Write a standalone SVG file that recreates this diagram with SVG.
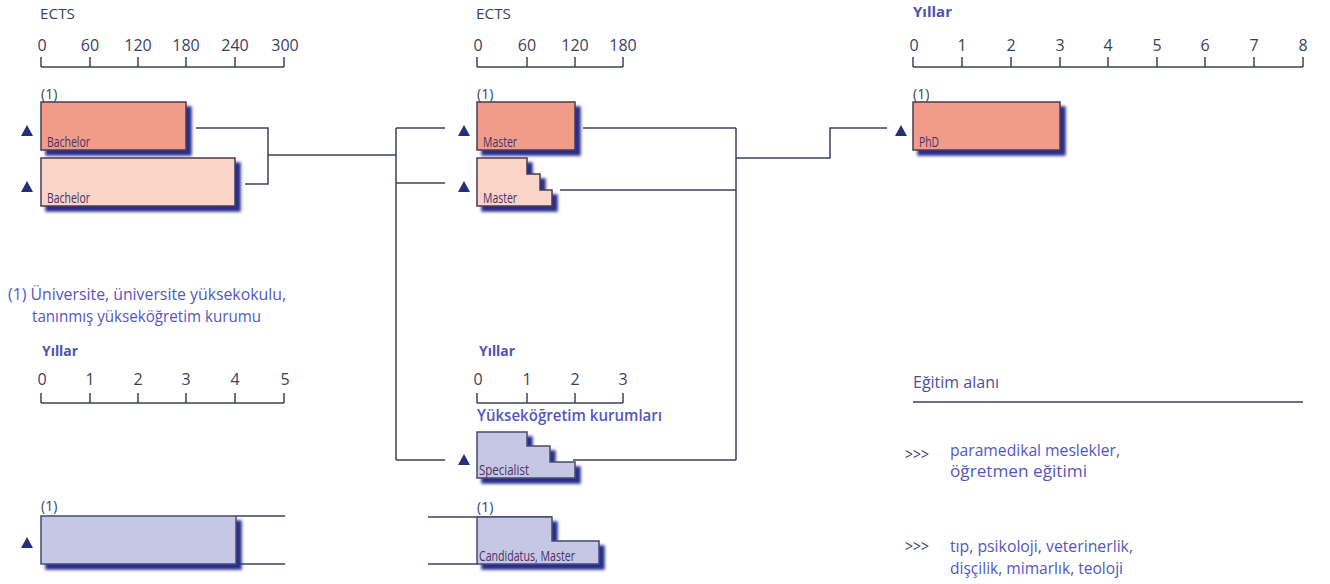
<svg xmlns="http://www.w3.org/2000/svg" width="1330" height="584" viewBox="0 0 1330 584">
<defs>
<style>
.ax{stroke:#3d4060;stroke-width:1.5;fill:none}
.cn{stroke:#3d4060;stroke-width:1.5;fill:none}
.lbl{font-family:"Open Sans","Liberation Sans",sans-serif;font-size:16px;fill:#3a3f62}
.hd{font-family:"Open Sans","Liberation Sans",sans-serif;font-size:15px;fill:#3a3f62}
.yl{font-family:"Open Sans","Liberation Sans",sans-serif;font-size:15px;font-weight:bold;fill:#4d52b4}
.blue{font-family:"Open Sans","Liberation Sans",sans-serif;font-size:16px;fill:#5457c0}
.box{font-family:"Open Sans","Liberation Sans",sans-serif;font-size:15px;fill:#4a3064}
.one{font-family:"Open Sans","Liberation Sans",sans-serif;font-size:14px;fill:#3a3f62}
.dk{fill:#f09c88;stroke:#4a3a55;stroke-width:1.5}
.lt{fill:#fad4c7;stroke:#4a3a55;stroke-width:1.5}
.lv{fill:#c6c7e4;stroke:#4a4a70;stroke-width:1.5}
.tri{fill:#26307a}
</style>
<filter id="sh" x="-10%" y="-20%" width="130%" height="160%">
<feGaussianBlur in="SourceAlpha" stdDeviation="1.8" result="b"/>
<feOffset dx="5" dy="5" result="o"/>
<feFlood flood-color="#272d8c"/>
<feComposite in2="o" operator="in" result="s"/>
<feMerge><feMergeNode in="s"/><feMergeNode in="SourceGraphic"/></feMerge>
</filter>
<path id="t" d="M0,0 L6,-11 L12,0 Z"/>
</defs>

<!-- scales -->
<g id="scale-ects-left">
<text class="hd" x="40" y="19" textLength="35" lengthAdjust="spacingAndGlyphs">ECTS</text>
<path class="ax" d="M41,67 H284 M41,57 V67 M90,57 V67 M138,57 V67 M186,57 V67 M235,57 V67 M284,57 V67"/>
<g class="lbl" text-anchor="middle">
<text x="42" y="51">0</text><text x="90" y="51">60</text><text x="138" y="51">120</text><text x="186" y="51">180</text><text x="235" y="51">240</text><text x="285" y="51">300</text>
</g>
</g>
<g id="scale-ects-mid">
<text class="hd" x="476" y="19" textLength="35" lengthAdjust="spacingAndGlyphs">ECTS</text>
<path class="ax" d="M477,67 H623 M477,57 V67 M527,57 V67 M575,57 V67 M623,57 V67"/>
<g class="lbl" text-anchor="middle">
<text x="478" y="51">0</text><text x="527" y="51">60</text><text x="575" y="51">120</text><text x="623" y="51">180</text>
</g>
</g>
<g id="scale-years-right">
<text class="yl" x="913" y="17" font-size="13">Yıllar</text>
<path class="ax" d="M913,67 H1303 M913,57 V67 M962,57 V67 M1011,57 V67 M1060,57 V67 M1108,57 V67 M1157,57 V67 M1205,57 V67 M1254,57 V67 M1303,57 V67"/>
<g class="lbl" text-anchor="middle">
<text x="914" y="51">0</text><text x="962" y="51">1</text><text x="1011" y="51">2</text><text x="1060" y="51">3</text><text x="1108" y="51">4</text><text x="1157" y="51">5</text><text x="1205" y="51">6</text><text x="1254" y="51">7</text><text x="1303" y="51">8</text>
</g>
</g>
<g id="scale-years-left">
<text class="yl" x="42" y="356" textLength="36" lengthAdjust="spacingAndGlyphs">Yıllar</text>
<path class="ax" d="M41,403 H284 M41,393 V403 M90,393 V403 M138,393 V403 M186,393 V403 M235,393 V403 M284,393 V403"/>
<g class="lbl" text-anchor="middle">
<text x="42" y="385">0</text><text x="90" y="385">1</text><text x="138" y="385">2</text><text x="186" y="385">3</text><text x="235" y="385">4</text><text x="285" y="385">5</text>
</g>
</g>
<g id="scale-years-mid">
<text class="yl" x="479" y="356" textLength="36" lengthAdjust="spacingAndGlyphs">Yıllar</text>
<path class="ax" d="M477,403 H623 M477,393 V403 M527,393 V403 M575,393 V403 M623,393 V403"/>
<g class="lbl" text-anchor="middle">
<text x="478" y="385">0</text><text x="527" y="385">1</text><text x="575" y="385">2</text><text x="623" y="385">3</text>
</g>
<text class="blue" x="477" y="421" font-size="17" font-weight="600" textLength="185" lengthAdjust="spacingAndGlyphs">Yükseköğretim kurumları</text>
</g>

<!-- connectors -->
<g id="connectors">
<path class="cn" d="M196,128 H268 V184 H245 M268,155 H396 M396,128 V460 M396,128 H445 M396,183 H445 M396,460 H445"/>
<path class="cn" d="M583,128 H736 M560,190 H736 M573,460 H736 M736,128 V460 M736,158 H830 V128 H887"/>
<path class="cn" d="M236,516 H285 M236,564 H285"/>
<path class="cn" d="M428,517 H552 M428,564 H478"/>
</g>

<!-- nodes -->
<g id="bachelor1">
<text class="one" x="41" y="99">(1)</text>
<use href="#t" x="21" y="136" class="tri"/>
<rect class="dk" x="41" y="102" width="145" height="48" filter="url(#sh)"/>
<text class="box" x="47" y="147" textLength="43" lengthAdjust="spacingAndGlyphs">Bachelor</text>
</g>
<g id="bachelor2">
<use href="#t" x="21" y="192" class="tri"/>
<rect class="lt" x="41" y="158" width="194" height="48" filter="url(#sh)"/>
<text class="box" x="47" y="203" textLength="43" lengthAdjust="spacingAndGlyphs">Bachelor</text>
</g>
<g id="master1">
<text class="one" x="477" y="99">(1)</text>
<use href="#t" x="458" y="136" class="tri"/>
<rect class="dk" x="477" y="102" width="98" height="48" filter="url(#sh)"/>
<text class="box" x="483" y="147" textLength="34" lengthAdjust="spacingAndGlyphs">Master</text>
</g>
<g id="master2">
<use href="#t" x="458" y="192" class="tri"/>
<path class="lt" d="M477,158 H527 V174 H540 V190 H552 V206 H477 Z" filter="url(#sh)"/>
<text class="box" x="483" y="203" textLength="34" lengthAdjust="spacingAndGlyphs">Master</text>
</g>
<g id="phd">
<text class="one" x="913" y="99">(1)</text>
<use href="#t" x="895" y="136" class="tri"/>
<rect class="dk" x="913" y="102" width="147" height="48" filter="url(#sh)"/>
<text class="box" x="919" y="147" textLength="20" lengthAdjust="spacingAndGlyphs">PhD</text>
</g>
<g id="specialist">
<use href="#t" x="458" y="465" class="tri"/>
<path class="lv" d="M477,432 H527 V446 H550 V462 H575 V478 H477 Z" filter="url(#sh)"/>
<text class="box" x="479" y="475" textLength="50" lengthAdjust="spacingAndGlyphs">Specialist</text>
</g>
<g id="bottom-left">
<text class="one" x="41" y="511">(1)</text>
<use href="#t" x="21" y="548" class="tri"/>
<rect class="lv" x="41" y="516" width="195" height="48" filter="url(#sh)"/>
</g>
<g id="candidatus">
<text class="one" x="477" y="512">(1)</text>
<path class="lv" d="M477,517 H552 V541 H599 V564 H477 Z" filter="url(#sh)"/>
<text class="box" x="479" y="561" textLength="96" lengthAdjust="spacingAndGlyphs">Candidatus, Master</text>
</g>

<!-- footnote -->
<g id="footnote">
<text class="blue" x="8" y="300" font-size="15" textLength="278" lengthAdjust="spacingAndGlyphs">(1) Üniversite, üniversite yüksekokulu,</text>
<text class="blue" x="32" y="322" font-size="15" textLength="229" lengthAdjust="spacingAndGlyphs">tanınmış yükseköğretim kurumu</text>
</g>

<!-- legend -->
<g id="legend">
<text class="blue" x="913" y="388" font-size="15" textLength="86" lengthAdjust="spacingAndGlyphs" style="fill:#4a4f9e">Eğitim alanı</text>
<path class="ax" d="M913,402 H1303"/>
<text class="lbl" x="905" y="460" font-size="12" textLength="24" lengthAdjust="spacingAndGlyphs">&gt;&gt;&gt;</text>
<text class="blue" x="950" y="456" textLength="170" lengthAdjust="spacingAndGlyphs">paramedikal meslekler,</text>
<text class="blue" x="950" y="477" textLength="137" lengthAdjust="spacingAndGlyphs">öğretmen eğitimi</text>
<text class="lbl" x="905" y="552" font-size="12" textLength="24" lengthAdjust="spacingAndGlyphs">&gt;&gt;&gt;</text>
<text class="blue" x="950" y="552" textLength="183" lengthAdjust="spacingAndGlyphs">tıp, psikoloji, veterinerlik,</text>
<text class="blue" x="950" y="574" textLength="173" lengthAdjust="spacingAndGlyphs">dişçilik, mimarlık, teoloji</text>
</g>
</svg>
